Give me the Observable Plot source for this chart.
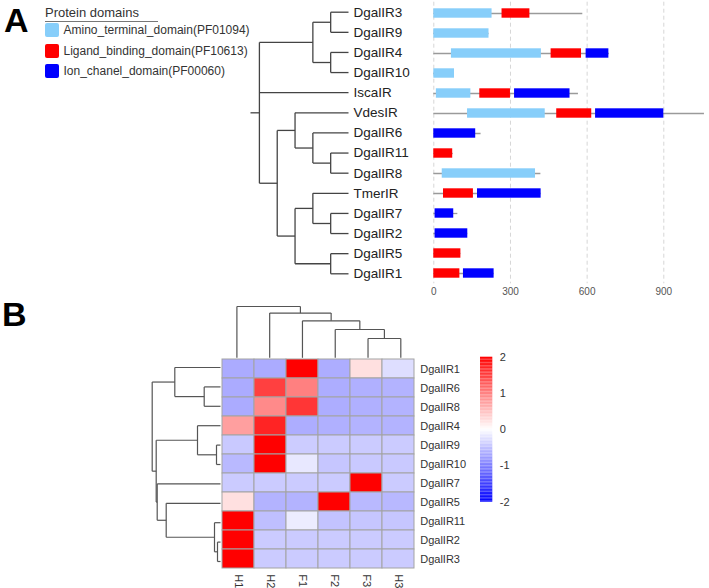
<!DOCTYPE html>
<html><head><meta charset="utf-8">
<script src="https://cdn.jsdelivr.net/npm/d3@7"></script>
<script src="https://cdn.jsdelivr.net/npm/@observablehq/plot@0.6"></script>
<style>
body{margin:0;background:#fff;font-family:"Liberation Sans",Arial,sans-serif;}
#root{position:relative;width:709px;height:588px;overflow:hidden;background:#fff;}
.abs{position:absolute;}
.abs svg{background:transparent;overflow:visible;}
.panel{position:absolute;font-family:"Liberation Sans",Arial,sans-serif;font-weight:bold;color:#000;font-size:34px;line-height:1;}
.lgtitle{position:absolute;left:45px;top:5px;font-size:13px;color:#333;border-bottom:1px solid #777;width:113px;padding-bottom:1px;}
.lgitem{position:absolute;left:45px;font-size:12px;color:#333;display:flex;align-items:center;}
.lgitem span.sw{display:inline-block;width:13.5px;height:14px;border-radius:2px;margin-right:5px;}
</style></head><body><div id="root"></div>
<script>
// ---------- Panel A data ----------
const domainNames = ["Amino_terminal_domain(PF01094)", "Ligand_binding_domain(PF10613)", "Ion_chanel_domain(PF00060)"];
const domainColors = ["#87cefa", "#ff0000", "#0000ff"];
const treeNested = [[["DgalIR3","DgalIR9"],["DgalIR4","DgalIR10"]],"IscaIR",[["VdesIR",["DgalIR6",["DgalIR11","DgalIR8"]]],[["TmerIR",["DgalIR7","DgalIR2"]],["DgalIR5","DgalIR1"]]]];
const proteins = ["DgalIR3","DgalIR9","DgalIR4","DgalIR10","IscaIR","VdesIR","DgalIR6","DgalIR11","DgalIR8","TmerIR","DgalIR7","DgalIR2","DgalIR5","DgalIR1"];
const proteinLength = [583, 216, 687, 81, 566, 1059, 185, 76, 419, 420, 94, 133, 106, 236];
const domProtein = ["DgalIR3","DgalIR3","DgalIR9","DgalIR4","DgalIR4","DgalIR4","DgalIR10","IscaIR","IscaIR","IscaIR","VdesIR","VdesIR","VdesIR","DgalIR6","DgalIR11","DgalIR8","TmerIR","TmerIR","DgalIR7","DgalIR2","DgalIR5","DgalIR1","DgalIR1"];
const domType = [0,1,0,0,1,2,0,0,1,2,0,1,2,2,1,0,1,2,2,2,1,1,2];
const domStart = [0,267,0,69,459,596,0,10,180,316,132,481,633,0,0,33,38,171,5,5,0,0,116];
const domEnd = [228,376,216,421,578,685,81,145,300,533,436,618,900,164,74,398,155,420,78,133,106,102,236];
const axisTicks = [0, 300, 600, 900];

// ---------- Panel B data ----------
const heatRows = ["DgalIR1","DgalIR6","DgalIR8","DgalIR4","DgalIR9","DgalIR10","DgalIR7","DgalIR5","DgalIR11","DgalIR2","DgalIR3"];
const heatCols = ["H1","H2","F1","F2","F3","H3"];
const heatValues = [
  [-0.66,-0.66, 2.00,-0.64, 0.24,-0.26],
  [-0.66, 1.50, 1.00,-0.64,-0.62,-0.60],
  [-0.66, 0.92, 1.58,-0.64,-0.62,-0.60],
  [ 0.75, 1.72,-0.64,-0.62,-0.60,-0.60],
  [-0.42, 2.05,-0.40,-0.41,-0.41,-0.41],
  [-0.55, 2.00,-0.18,-0.45,-0.42,-0.42],
  [-0.41,-0.41,-0.41,-0.41, 2.04,-0.41],
  [ 0.24,-0.60,-0.60, 2.05,-0.55,-0.56],
  [ 2.00,-0.50,-0.15,-0.47,-0.45,-0.45],
  [ 2.04,-0.41,-0.41,-0.41,-0.41,-0.41],
  [ 2.04,-0.41,-0.41,-0.41,-0.41,-0.41]
];
const rowMerge = [
  ["DgalIR2","DgalIR3",0.3],
  ["DgalIR9","DgalIR10",0.4],
  ["DgalIR11","m0",0.6],
  ["DgalIR6","DgalIR8",1.63],
  ["DgalIR4","m1",2.3],
  ["DgalIR1","m3",4.57],
  ["DgalIR5","m2",5.43],
  ["DgalIR7","m6",6.33],
  ["m4","m7",6.43],
  ["m5","m8",6.83]
];
const colMerge = [
  ["F3","H3",1.93],
  ["F2","m0",2.83],
  ["F1","m1",3.70],
  ["H2","m2",4.47],
  ["H1","m3",5.13]
];
const legendTicks = [-2,-1,0,1,2];

// ---------- helpers ----------
const rootEl = document.getElementById("root");
function place(node, left, top) {
  const d = document.createElement("div");
  d.className = "abs"; d.style.left = left + "px"; d.style.top = top + "px";
  d.appendChild(node); rootEl.appendChild(d); return d;
}
const baseStyle = {fontFamily: "'Liberation Sans', Arial, sans-serif", background: "transparent", overflow: "visible"};

// Panel letters
for (const [t, l, tp] of [["A", 4, 3], ["B", 2, 297]]) {
  const d = document.createElement("div"); d.className = "panel"; d.textContent = t;
  d.style.left = l + "px"; d.style.top = tp + "px"; rootEl.appendChild(d);
}

// Legend A
{
  const t = document.createElement("div"); t.className = "lgtitle"; t.textContent = "Protein domains"; rootEl.appendChild(t);
  domainNames.forEach((n, i) => {
    const it = document.createElement("div"); it.className = "lgitem";
    it.style.top = (23 + i * 20.6) + "px";
    it.innerHTML = `<span class="sw" style="background:${domainColors[i]}"></span><span>${n}</span>`;
    rootEl.appendChild(it);
  });
}

// ---------- Tree A ----------
{
  const root = d3.hierarchy(treeNested, d => Array.isArray(d) ? d : null);
  let li = 0;
  root.eachAfter(n => {
    if (!n.children) { n.ty = li++; n.lv = 0; n.name = n.data; }
    else {
      n.lv = 1 + d3.max(n.children, c => c.lv);
      n.ty = (d3.min(n.children, c => c.ty) + d3.max(n.children, c => c.ty)) / 2;
    }
  });
  const segs = [];
  root.each(n => {
    if (n.children) {
      segs.push({x1: n.lv, x2: n.lv, y1: d3.min(n.children, c => c.ty), y2: d3.max(n.children, c => c.ty)});
      n.children.forEach(c => segs.push({x1: n.lv, x2: c.lv, y1: c.ty, y2: c.ty}));
    }
  });
  segs.push({x1: root.lv + 0.5, x2: root.lv, y1: root.ty, y2: root.ty});
  const leaves = root.leaves();
  const p = Plot.plot({
    width: 420, height: 300, marginLeft: 250, marginRight: 72, marginTop: 11.7, marginBottom: 26.7,
    style: baseStyle,
    x: {domain: [root.lv + 0.5, 0], axis: null},
    y: {domain: [0, leaves.length - 1], reverse: true, axis: null},
    marks: [
      Plot.link(segs, {x1: "x1", y1: "y1", x2: "x2", y2: "y2", stroke: "#444", strokeWidth: 1.3}),
      Plot.text(leaves, {x: "lv", y: "ty", text: "name", textAnchor: "start", dx: 5, fontSize: 13.5, fill: "#222"})
    ]
  });
  place(p, 0, 0);
}

// ---------- Domain bars A ----------
{
  const doms = domProtein.map((p, i) => ({protein: p, type: domainNames[domType[i]], start: domStart[i], end: domEnd[i]}));
  const backbone = proteins.map((p, i) => ({protein: p, len: proteinLength[i]}));
  const p = Plot.plot({
    width: 289, height: 300, marginLeft: 13.3, marginRight: 4.8, marginTop: 1.7, marginBottom: 16.7,
    style: {...baseStyle, fontSize: "10px", color: "#555"},
    x: {domain: [0, 1060], label: null},
    y: {type: "band", domain: proteins, padding: 0, axis: null},
    color: {domain: domainNames, range: domainColors},
    marks: [
      Plot.ruleX(axisTicks, {x: d => d, stroke: "#d6d6d6", strokeDasharray: "4,3", strokeWidth: 1}),
      Plot.ruleY(backbone, {y: "protein", x1: 0, x2: "len", stroke: "#9a9a9a", strokeWidth: 1.3}),
      Plot.barX(doms, {y: "protein", x1: "start", x2: "end", fill: "type", insetTop: 5.3, insetBottom: 5.3}),
      Plot.axisX({ticks: axisTicks, tickSize: 0, tickPadding: 4, label: null, fill: "#555"})
    ]
  });
  place(p, 420, 0);
}

// ---------- Heatmap B ----------
const cells = heatRows.flatMap((r, i) => heatCols.map((c, j) => ({row: r, col: c, v: heatValues[i][j]})));
const colorScale = {type: "linear", domain: [-2, 0, 2], range: ["#0000ff", "#ffffff", "#ff0000"], interpolate: "rgb", clamp: true};
{
  const p = Plot.plot({
    width: 280, height: 248, marginLeft: 20, marginRight: 63.3, marginTop: 17.3, marginBottom: 17.3,
    style: {...baseStyle, fontSize: "11px", color: "#333"},
    x: {domain: heatCols, padding: 0, label: null},
    y: {domain: heatRows, padding: 0, label: null},
    color: colorScale,
    marks: [
      Plot.cell(cells, {x: "col", y: "row", fill: "v", stroke: "#a3a3a3", strokeWidth: 1, inset: 0}),
      Plot.axisY({anchor: "right", tickSize: 0, tickPadding: 3, label: null, fontSize: 11, fill: "#333"}),
      Plot.axisX({anchor: "bottom", tickSize: 0, tickPadding: 3, tickRotate: 90, label: null, fontSize: 11, fill: "#333"})
    ]
  });
  place(p, 200, 340);
}

// dendrogram segments from merge table
function dendroSegs(merges, leaves) {
  const pos = new Map(leaves.map((l, i) => [l, {p: i, h: 0}]));
  const segs = [];
  merges.forEach(([a, b, h], k) => {
    const A = pos.get(a), B = pos.get(b);
    segs.push({p1: A.p, p2: B.p, h1: h, h2: h});
    segs.push({p1: A.p, p2: A.p, h1: A.h, h2: h});
    segs.push({p1: B.p, p2: B.p, h1: B.h, h2: h});
    pos.set("m" + k, {p: (A.p + B.p) / 2, h});
  });
  return segs;
}

// Row dendrogram
{
  const segs = dendroSegs(rowMerge, heatRows);
  const p = Plot.plot({
    width: 80, height: 248, marginLeft: 0, marginRight: 0, marginTop: 17.3, marginBottom: 17.3,
    style: baseStyle,
    x: {domain: [8, 0], axis: null},
    y: {domain: [-0.5, heatRows.length - 0.5], reverse: true, axis: null},
    marks: [Plot.link(segs, {x1: "h1", x2: "h2", y1: "p1", y2: "p2", stroke: "#555", strokeWidth: 1.2})]
  });
  place(p, 140, 340);
}

// Column dendrogram
{
  const segs = dendroSegs(colMerge, heatCols);
  const p = Plot.plot({
    width: 280, height: 57.3, marginLeft: 20, marginRight: 63.3, marginTop: 0, marginBottom: 0,
    style: baseStyle,
    x: {domain: [-0.5, heatCols.length - 0.5], axis: null},
    y: {domain: [0, 5.73], axis: null},
    marks: [Plot.link(segs, {x1: "p1", x2: "p2", y1: "h1", y2: "h2", stroke: "#555", strokeWidth: 1.2})]
  });
  place(p, 200, 300);
}

// Color legend
{
  const step = 0.04;
  const stops = d3.range(-2, 2, step);
  const p = Plot.plot({
    width: 60, height: 170, marginLeft: 10, marginRight: 37.7, marginTop: 11.7, marginBottom: 13.3,
    style: {...baseStyle, fontSize: "11px", color: "#333"},
    x: {domain: [0, 1], axis: null},
    y: {domain: [-2, 2], axis: null},
    color: colorScale,
    marks: [
      Plot.rect(stops, {x1: 0, x2: 1, y1: d => d, y2: d => d + step, fill: d => d + step / 2}),
      Plot.axisY({ticks: legendTicks, anchor: "right", tickSize: 0, tickPadding: 7, tickFormat: d => String(d), label: null, fontSize: 11, fill: "#333"})
    ]
  });
  place(p, 470, 345);
}
</script></body></html>
